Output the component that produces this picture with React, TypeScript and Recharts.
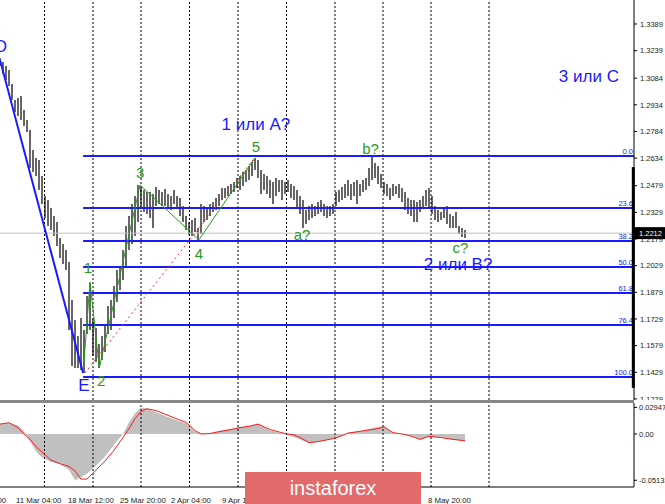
import {
  ComposedChart,
  Bar,
  Line,
  Area,
  XAxis,
  YAxis,
  ReferenceLine,
  Scatter,
} from "recharts";

// H4 bars, one entry every few candles (high / low)
const barHigh = [
  1.3198, 1.3175, 1.3153, 1.313, 1.3051, 1.2961, 1.2973, 1.2984, 1.2905, 1.2849,
  1.2793, 1.268, 1.2635, 1.2624, 1.2534, 1.2421, 1.2399, 1.2354, 1.2309, 1.2275,
  1.2185, 1.2151, 1.2117, 1.205, 1.1836, 1.1724, 1.1633, 1.1735, 1.1667, 1.1859,
  1.1932, 1.1735, 1.1678, 1.1588, 1.1633, 1.1701, 1.1802, 1.1836, 1.1915, 1.2005,
  1.2027, 1.2117, 1.2252, 1.2309, 1.2376, 1.2421, 1.2483, 1.2472, 1.2455, 1.2444,
  1.2444, 1.2432, 1.2472, 1.2455, 1.2444, 1.2461, 1.2432, 1.2421, 1.2455, 1.2421,
  1.241, 1.2365, 1.2309, 1.2275, 1.2286, 1.2297, 1.2241, 1.2376, 1.2365, 1.2354,
  1.2376, 1.2387, 1.241, 1.2432, 1.2466, 1.2466, 1.2477, 1.2489, 1.25, 1.2522,
  1.2534, 1.2556, 1.2568, 1.259, 1.2613, 1.2635, 1.2624, 1.2568, 1.2545, 1.2534,
  1.2511, 1.25, 1.2522, 1.2511, 1.2511, 1.25, 1.2511, 1.2489, 1.2477, 1.2455,
  1.2421, 1.2399, 1.2342, 1.2365, 1.2376, 1.2365, 1.2387, 1.2399, 1.2376, 1.2365,
  1.2365, 1.2376, 1.2444, 1.2455, 1.2472, 1.2489, 1.2511, 1.2489, 1.25, 1.2511,
  1.2489, 1.2511, 1.2522, 1.2579, 1.2641, 1.2607, 1.259, 1.2545, 1.25, 1.2489,
  1.2466, 1.2489, 1.2477, 1.2489, 1.2466, 1.2444, 1.241, 1.2399, 1.2399, 1.2387,
  1.2399, 1.2421, 1.2455, 1.2466, 1.2421, 1.2365, 1.2342, 1.2331, 1.2354, 1.2365,
  1.232, 1.2309, 1.2331, 1.2252, 1.2241, 1.223,
];
const barLow = [
  1.3153, 1.3108, 1.3074, 1.304, 1.2961, 1.2894, 1.2871, 1.2849, 1.2815, 1.2781,
  1.2579, 1.2556, 1.2534, 1.2455, 1.2376, 1.2297, 1.2252, 1.223, 1.2196, 1.214,
  1.2072, 1.2039, 1.2005, 1.1667, 1.1465, 1.1453, 1.1453, 1.1442, 1.1425, 1.1645,
  1.1667, 1.1521, 1.1487, 1.1453, 1.1498, 1.1543, 1.1645, 1.1667, 1.1735, 1.1825,
  1.1892, 1.1949, 1.2016, 1.2117, 1.2151, 1.2196, 1.2275, 1.2354, 1.2331, 1.232,
  1.2297, 1.2241, 1.2365, 1.2376, 1.2365, 1.2365, 1.2354, 1.2342, 1.2376, 1.2354,
  1.2309, 1.2275, 1.223, 1.2202, 1.2196, 1.2219, 1.2174, 1.2207, 1.2275, 1.2286,
  1.2309, 1.2331, 1.2342, 1.2365, 1.2399, 1.241, 1.2421, 1.2432, 1.2444, 1.2466,
  1.2455, 1.2477, 1.25, 1.2511, 1.2534, 1.2568, 1.2522, 1.2432, 1.2455, 1.2432,
  1.241, 1.2376, 1.2421, 1.2444, 1.2399, 1.2432, 1.2444, 1.241, 1.2399, 1.2354,
  1.232, 1.2241, 1.2264, 1.2286, 1.2297, 1.2309, 1.232, 1.2331, 1.2309, 1.2297,
  1.2309, 1.232, 1.2365, 1.2387, 1.2399, 1.241, 1.2421, 1.2399, 1.2421, 1.2376,
  1.2421, 1.2444, 1.2455, 1.2477, 1.2511, 1.2522, 1.2489, 1.2466, 1.2432, 1.2421,
  1.2399, 1.2421, 1.2432, 1.241, 1.2387, 1.2342, 1.232, 1.2309, 1.2275, 1.2275,
  1.2331, 1.2354, 1.2365, 1.2354, 1.232, 1.2286, 1.2275, 1.2286, 1.2297, 1.2264,
  1.2241, 1.2241, 1.2241, 1.2207, 1.2191, 1.2185,
];

const X_MAX = 211.33;
const PRICE_DOMAIN = [1.1273, 1.3524];
const priceTicks = [
  1.3389, 1.3239, 1.3084, 1.2934, 1.2784, 1.2634, 1.2479, 1.2329, 1.2179,
  1.2029, 1.1879, 1.1729, 1.1579, 1.1429, 1.1279,
];
const lastPrice = 1.2212;

// vertical time separators and date labels (in bar units)
const gridTimes = [14.83, 31, 47, 63.17, 79.33, 95.5, 111.67, 127.67, 143.67, 163];
const dateTicks = [-11.83, 5.33, 22.67, 40, 57, 74, 91.33, 108.33, 125.67, 142.67];
const dateLabels = [
  "3 Mar 20:00", "11 Mar 04:00", "18 Mar 12:00", "25 Mar 20:00", "2 Apr 04:00",
  "9 Apr 12:00", "16 Apr 20:00", "24 Apr 04:00", "1 May 12:00", "8 May 20:00",
];

// fibonacci grid from E to wave 5
const fibNames = ["0.0", "23.6", "38.2", "50.0", "61.8", "76.4", "100.0"];
const fibPrices = [1.2646, 1.2354, 1.2168, 1.2022, 1.1875, 1.1695, 1.1403];
const fibStart = 27.7;

// wave lines
const blueWave = [
  { x: 0, y: 1.3187 },
  { x: 27.7, y: 1.1425 },
];
const greenWave = [
  { x: 27.7, y: 1.1425 },
  { x: 30, y: 1.1937 },
  { x: 33.1, y: 1.1453 },
  { x: 46.7, y: 1.2483 },
  { x: 66.3, y: 1.2174 },
  { x: 85, y: 1.2635 },
];
const redTrend = [
  { x: 28.3, y: 1.1425 },
  { x: 84.3, y: 1.2624 },
];

const greenLabels = [
  { x: 29.3, y: 1.2016, text: "1" },
  { x: 33.7, y: 1.1383, text: "2" },
  { x: 46.7, y: 1.2556, text: "3" },
  { x: 66.3, y: 1.2095, text: "4" },
  { x: 85.3, y: 1.2702, text: "5" },
  { x: 100.7, y: 1.2202, text: "a?" },
  { x: 123.5, y: 1.2691, text: "b?" },
  { x: 153.5, y: 1.2129, text: "c?" },
];
const blueLabels = [
  { x: 0.3, y: 1.326, text: "D" },
  { x: 28, y: 1.1352, text: "E" },
  { x: 85.3, y: 1.2826, text: "1 или А?" },
  { x: 152.7, y: 1.2033, text: "2 или В?" },
  { x: 196.3, y: 1.3096, text: "3 или С" },
];

// MACD histogram and signal
const macdX = [
  0, 3, 6, 8, 10, 12, 14, 17, 20, 23, 25, 27, 29, 32, 35, 38, 41, 43, 45, 47, 49,
  52, 55, 58, 62, 65, 67, 70, 73, 77, 80, 83, 86, 90, 95, 98, 100, 103, 106, 109,
  112, 116, 120, 123, 126, 128, 131, 135, 138, 140, 143, 147, 151, 155,
];
const macdHist = [
  0.011, 0.0125, 0.0095, 0.003, -0.008, -0.019, -0.026, -0.031, -0.033, -0.04,
  -0.0513, -0.048, -0.044, -0.035, -0.025, -0.012, 0, 0.013, 0.023, 0.029, 0.0285,
  0.024, 0.02, 0.0165, 0.012, 0.003, 0.0005, 0.001, 0.0035, 0.0055, 0.008, 0.009,
  0.0115, 0.004, 0, -0.0035, -0.006, -0.01, -0.0085, -0.0065, -0.0045, 0.0015,
  0.003, 0.0055, 0.008, 0.0085, 0.001, -0.0005, -0.003, -0.006, -0.003, -0.0035,
  -0.006, -0.008,
];
const macdSignal = [
  0.011, 0.0125, 0.007, 0, -0.006, -0.014, -0.02, -0.029, -0.033, -0.036, -0.041,
  -0.05, -0.05, -0.04, -0.03, -0.018, -0.004, 0.006, 0.017, 0.025, 0.028, 0.026,
  0.022, 0.018, 0.013, 0.004, 0, 0.0005, 0.0025, 0.005, 0.007, 0.0085, 0.011,
  0.005, 0.0005, -0.001, -0.004, -0.0095, -0.0085, -0.0065, -0.0045, 0.001, 0.003,
  0.0045, 0.006, 0.008, 0.0015, -0.0005, -0.0035, -0.006, -0.0025, -0.004, -0.006,
  -0.0075,
];

const BLUE = "#1a1aff";
const GREEN = "#2a9a1a";
const FONT = "'Liberation Sans', Arial, sans-serif";

const bars = barHigh.map((h, i) => ({ x: i, range: [barLow[i], h] }));
const macd = macdX.map((x, i) => ({ x, hist: macdHist[i], signal: macdSignal[i] }));

// thin OHLC-style bar, snapped to whole pixels
const priceBar = (p: any) => {
  const cx = Math.round(p.x + p.width / 2);
  return (
    <rect
      x={cx - 1}
      y={p.y}
      width={2}
      height={Math.max(p.height, 1)}
      fill="#666"
      shapeRendering="crispEdges"
    />
  );
};

const textShape = (color: string, size: number) => (p: any) => (
  <text
    x={p.cx}
    y={p.cy}
    fill={color}
    fontSize={size}
    fontFamily={FONT}
    textAnchor="middle"
    dominantBaseline="central"
  >
    {p.payload.text}
  </text>
);

const fibLabel = (name: string) => (props: any) => {
  const vb = props.viewBox;
  return (
    <text
      x={vb.x + vb.width - 1}
      y={vb.y - 2}
      fill={BLUE}
      fontSize={7.5}
      fontFamily={FONT}
      textAnchor="end"
    >
      {name}
    </text>
  );
};

const priceBox = (props: any) => {
  const vb = props.viewBox;
  const x = vb.x + vb.width;
  return (
    <g>
      <rect x={x} y={vb.y - 6} width={31} height={12} fill="#000" />
      <text x={x + 5} y={vb.y + 3} fill="#fff" fontSize={7.5} fontFamily={FONT}>
        {lastPrice.toFixed(4)}
      </text>
    </g>
  );
};

const dateTick = (props: any) => (
  <text
    x={props.x}
    y={props.y + 8}
    fill="#222"
    fontSize={7.8}
    fontFamily={FONT}
    textAnchor="start"
  >
    {dateLabels[dateTicks.indexOf(props.payload.value)]}
  </text>
);

const axisTick = { fontSize: 7.5, fill: "#222", fontFamily: FONT };

export default function App() {
  return (
    <div
      style={{
        position: "absolute",
        left: 0,
        top: 0,
        width: 665,
        height: 504,
        background: "#fff",
        overflow: "hidden",
      }}
    >
      <div style={{ position: "absolute", left: 0, top: 0 }}>
        <ComposedChart
          width={665}
          height={400}
          data={bars}
          margin={{ top: 0, right: 0, left: 0, bottom: 0 }}
        >
          <XAxis dataKey="x" type="number" domain={[0, X_MAX]} hide allowDataOverflow />
          <YAxis
            orientation="right"
            type="number"
            domain={PRICE_DOMAIN}
            ticks={priceTicks}
            interval={0}
            allowDataOverflow
            width={31}
            tickSize={3}
            tickMargin={3}
            tickFormatter={(v) => Number(v).toFixed(4)}
            tick={axisTick}
            axisLine={{ stroke: "#000" }}
            tickLine={{ stroke: "#000" }}
          />
          {gridTimes.map((g) => (
            <ReferenceLine key={`g${g}`} x={g} stroke="#000" strokeDasharray="2 2" />
          ))}
          <ReferenceLine y={lastPrice} stroke="#c0c0c0" label={priceBox} />
          {fibPrices.map((p, i) => (
            <ReferenceLine
              key={`f${i}`}
              segment={[
                { x: fibStart, y: p },
                { x: X_MAX, y: p },
              ]}
              stroke={BLUE}
              strokeWidth={2}
              ifOverflow="visible"
              label={fibLabel(fibNames[i])}
            />
          ))}
          <Bar dataKey="range" barSize={2} shape={priceBar} isAnimationActive={false} />
          <ReferenceLine
            segment={[
              { x: redTrend[0].x, y: redTrend[0].y },
              { x: redTrend[1].x, y: redTrend[1].y },
            ]}
            stroke="#ff2a2a"
            strokeDasharray="2 3"
            ifOverflow="visible"
          />
          {greenWave.slice(1).map((pt, i) => (
            <ReferenceLine
              key={`w${i}`}
              segment={[
                { x: greenWave[i].x, y: greenWave[i].y },
                { x: pt.x, y: pt.y },
              ]}
              stroke={GREEN}
              strokeWidth={1}
              ifOverflow="visible"
            />
          ))}
          <ReferenceLine
            segment={[
              { x: blueWave[0].x, y: blueWave[0].y },
              { x: blueWave[1].x, y: blueWave[1].y },
            ]}
            stroke={BLUE}
            strokeWidth={2}
            ifOverflow="visible"
          />
          <ReferenceLine
            segment={[
              { x: 211.1, y: 1.2584 },
              { x: 211.1, y: 1.1341 },
            ]}
            stroke="#000"
            strokeWidth={3}
            ifOverflow="visible"
          />
          <Scatter
            data={greenLabels}
            dataKey="y"
            shape={textShape(GREEN, 15)}
            isAnimationActive={false}
          />
          <Scatter
            data={blueLabels}
            dataKey="y"
            shape={textShape(BLUE, 17)}
            isAnimationActive={false}
          />
        </ComposedChart>
      </div>

      <div
        style={{
          position: "absolute",
          left: 0,
          top: 400,
          width: 634,
          height: 3,
          background: "#888",
        }}
      />

      <div style={{ position: "absolute", left: 0, top: 403 }}>
        <ComposedChart
          width={665}
          height={101}
          data={macd}
          margin={{ top: 0, right: 0, left: 0, bottom: 0 }}
        >
          <XAxis
            dataKey="x"
            type="number"
            domain={[0, X_MAX]}
            ticks={dateTicks}
            interval={0}
            allowDataOverflow
            height={17}
            tickLine={false}
            axisLine={{ stroke: "#000" }}
            tick={dateTick}
          />
          <YAxis
            orientation="right"
            type="number"
            domain={[-0.0588, 0.0344]}
            ticks={[0.02947, 0, -0.05133]}
            interval={0}
            allowDataOverflow
            width={31}
            tickSize={3}
            tickMargin={2}
            tickFormatter={(v) => (v === 0 ? "0.00" : Number(v).toFixed(5))}
            tick={axisTick}
            axisLine={{ stroke: "#000" }}
            tickLine={{ stroke: "#000" }}
          />
          {gridTimes.map((g) => (
            <ReferenceLine key={`mg${g}`} x={g} stroke="#000" strokeDasharray="2 2" />
          ))}
          <Area
            type="linear"
            dataKey="hist"
            baseValue={0}
            fill="#c0c0c0"
            fillOpacity={1}
            stroke="none"
            isAnimationActive={false}
          />
          <Line
            type="linear"
            dataKey="signal"
            stroke="#ff1a1a"
            strokeWidth={1}
            dot={false}
            isAnimationActive={false}
          />
        </ComposedChart>
      </div>

      <div
        style={{
          position: "absolute",
          left: 245,
          top: 472,
          width: 176,
          height: 32,
          background: "#e26a6a",
          color: "#fff",
          fontFamily: FONT,
          fontSize: 20,
          lineHeight: "32px",
          textAlign: "center",
        }}
      >
        instaforex
      </div>
    </div>
  );
}
